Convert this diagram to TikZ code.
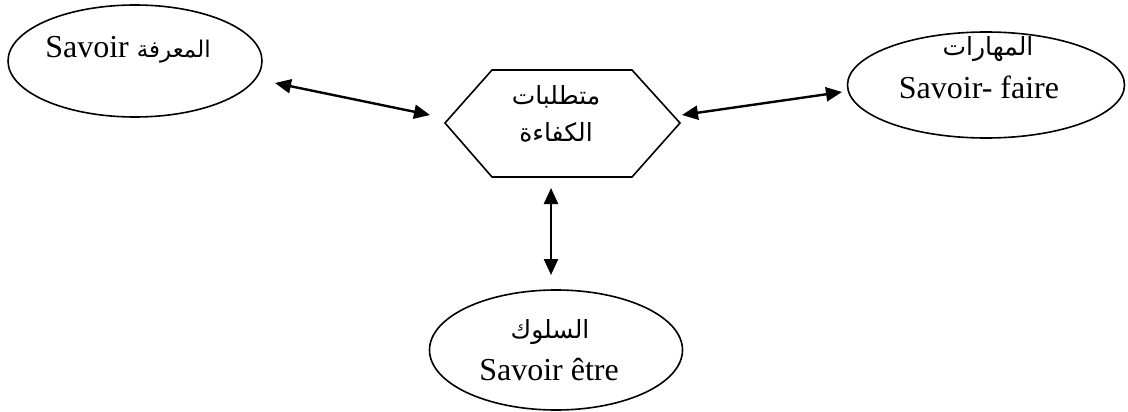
\documentclass[tikz,border=0pt]{standalone}
\usepackage{fontspec}
\setmainfont{Liberation Serif}
\newfontfamily\arabicfont[Script=Arabic]{DejaVu Sans}
\TeXXeTstate=1
\usetikzlibrary{shapes.geometric,arrows.meta}
\begin{document}
\begin{tikzpicture}[x=1pt,y=-1pt,
  oval/.style={draw,ellipse,line width=1.6pt,inner sep=0pt},
  lat/.style={font=\fontsize{32}{36}\selectfont,inner sep=0pt},
  arb/.style={font=\arabicfont\fontsize{25}{28}\selectfont,inner sep=0pt},
  link/.style={line width=2.4pt,{Triangle[length=16pt,width=14pt]}-{Triangle[length=16pt,width=14pt]}}]
\useasboundingbox (0,0) rectangle (1128,412);
% ellipses
\node[oval,minimum width=254pt,minimum height=112pt] (savoir) at (135,61) {};
\node[oval,minimum width=277pt,minimum height=106pt] (faire) at (986,85) {};
\node[oval,minimum width=253pt,minimum height=120pt] (etre) at (556,350) {};
% hexagon
\draw[line width=1.6pt] (445,123) -- (492,70) -- (632,70) -- (680,123) -- (632,177) -- (492,177) -- cycle;
% texts
\node[lat] (t1) at (128,50) {Savoir {\arabicfont\fontsize{23}{26}\selectfont\beginR المعرفة\endR}};
\node[arb] (h1) at (556,97) {\beginR متطلبات\endR};
\node[arb] (h2) at (556,132) {\beginR الكفاءة\endR};
\node[arb] (f1) at (988,49) {\beginR المهارات\endR};
\node[lat] (f2) at (979,87) {Savoir- faire};
\node[arb] (e1) at (550,332) {\beginR السلوك\endR};
\node[lat] (e2) at (549,370) {Savoir être};
% arrow ends
\coordinate (a1) at (275,83);
\coordinate (a2) at (430,115);
\coordinate (b1) at (682,115);
\coordinate (b2) at (842,92);
\coordinate (c1) at (551,188);
\coordinate (c2) at (551,275);
\draw[link] (a1) -- (a2);
\draw[link] (b1) -- (b2);
\draw[link] (c1) -- (c2);
\end{tikzpicture}
\end{document}
